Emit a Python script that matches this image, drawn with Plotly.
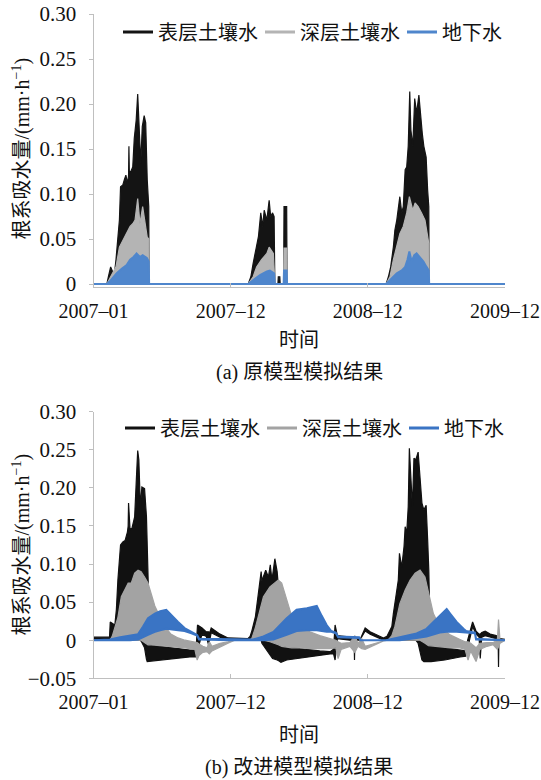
import pandas as pd
import plotly.graph_objects as go

START = pd.Timestamp("2007-01-01")
SPAN_DAYS = 1080
TICK_DAYS = [0, 360, 720, 1080]

NAMES = ["表层土壤水", "深层土壤水", "地下水"]
Y_TICKS_A = [0, 0.05, 0.10, 0.15, 0.20, 0.25, 0.30]
Y_TEXT_A = ["0", "0.05", "0.10", "0.15", "0.20", "0.25", "0.30"]
Y_TICKS_B = [-0.05, 0, 0.05, 0.10, 0.15, 0.20, 0.25, 0.30]
Y_TEXT_B = ["\u22120.05", "0", "0.05", "0.10", "0.15", "0.20", "0.25", "0.30"]

# ---- (a) original model: daily maxima of hourly root uptake (night values are 0)
a_surface_day = [0, 35, 39, 45, 50, 55, 59, 64, 68, 71, 77, 81, 85, 89, 92, 93, 94, 98, 103, 107,
                 112, 116, 120, 124, 128, 133, 137, 141, 145, 146,
                 406, 413, 419, 427, 433, 439, 444, 448, 455, 461, 465, 470, 474, 476, 484, 485,
                 489, 490, 499, 500, 507, 508,
                 768, 774, 780, 787, 791, 796, 801, 804, 809, 813, 818, 822, 826, 830, 833, 838,
                 843, 848, 854, 859, 863, 867, 873, 877, 880, 881, 1080]
a_surface_max = [0, 0, 0.008, 0.019, 0.014, 0.012, 0.027, 0.049, 0.071, 0.108, 0.110, 0.116, 0.121,
                 0.112, 0.120, 0.153, 0.125, 0.125, 0.130, 0.162, 0.182, 0.211, 0.179, 0.134, 0.175,
                 0.187, 0.179, 0.116, 0.086, 0,
                 0, 0.008, 0.023, 0.041, 0.053, 0.079, 0.064, 0.082, 0.071, 0.093, 0.075, 0.079,
                 0.075, 0, 0, 0.008, 0.008, 0, 0, 0.086, 0.086, 0,
                 0, 0.008, 0.019, 0.041, 0.060, 0.071, 0.086, 0.097, 0.079, 0.086, 0.127, 0.130,
                 0.153, 0.214, 0.171, 0.153, 0.206, 0.190, 0.210, 0.182, 0.167, 0.153, 0.141,
                 0.104, 0.086, 0, 0]

a_deep_day = [0, 35, 45, 59, 68, 78, 87, 96, 103, 109, 116, 122, 129, 135, 141, 145, 146,
              406, 419, 428, 441, 455, 461, 472, 476, 499, 500, 507, 508,
              768, 778, 787, 796, 804, 813, 822, 829, 838, 844, 852, 861, 870, 880, 881, 1080]
a_deep_max = [0, 0, 0.008, 0.019, 0.041, 0.049, 0.056, 0.064, 0.067, 0.071, 0.095, 0.067, 0.086,
              0.071, 0.052, 0.050, 0,
              0, 0.008, 0.019, 0.027, 0.034, 0.041, 0.034, 0, 0, 0.040, 0.040, 0,
              0, 0.008, 0.027, 0.041, 0.056, 0.064, 0.079, 0.097, 0.082, 0.090, 0.086, 0.079,
              0.071, 0.045, 0, 0]

a_ground_day = [0, 35, 45, 61, 74, 87, 96, 105, 113, 122, 129, 140, 145, 146,
                406, 419, 437, 455, 463, 474, 476, 499, 500, 507, 508,
                768, 783, 796, 809, 818, 824, 829, 835, 842, 848, 857, 866, 874, 880, 881, 1080]
a_ground_max = [0, 0, 0.004, 0.012, 0.017, 0.021, 0.027, 0.030, 0.034, 0.030, 0.032, 0.029, 0.025, 0,
                0, 0.004, 0.010, 0.014, 0.015, 0.012, 0, 0, 0.015, 0.015, 0,
                0, 0.006, 0.012, 0.015, 0.019, 0.027, 0.036, 0.025, 0.032, 0.034, 0.029, 0.025,
                0.019, 0.015, 0, 0]

# ---- (b) improved model: daily max / min of hourly root uptake
b_surface_day = [0, 42, 44, 56, 58, 60, 64, 69, 71, 77, 83, 89, 91, 92, 94, 96, 101, 108, 112, 116,
                 119, 123, 127, 134, 139, 141, 143, 145, 148, 175, 214, 253, 269, 273, 285, 296,
                 302, 305, 309, 314, 332, 353, 405, 411, 416, 425, 434, 438, 440, 442, 447, 452,
                 459, 464, 467, 470, 476, 482, 486, 490, 492, 507, 542, 594, 621, 630, 634, 640,
                 673, 684, 685, 686, 692, 699, 713, 726, 761, 770, 783, 787, 791, 796, 800, 803,
                 809, 815, 818, 822, 826, 829, 833, 837, 841, 846, 852, 857, 862, 867, 873, 877,
                 880, 883, 886, 922, 962, 977, 982, 995, 1004, 1012, 1015, 1019, 1028, 1041, 1057,
                 1062, 1063, 1064, 1067, 1080]
b_surface_max = [0.004, 0.004, 0.024, 0.020, 0.030, 0.040, 0.079, 0.105, 0.125, 0.129, 0.131, 0.142,
                 0.150, 0.180, 0.148, 0.145, 0.147, 0.162, 0.206, 0.249, 0.237, 0.175, 0.201, 0.199,
                 0.162, 0.123, 0.092, 0.020, -0.006, -0.008, -0.011, -0.013, -0.013, 0.020, 0.016,
                 0.011, 0.011, 0.010, 0.016, 0.014, 0.008, 0.003, 0.002, 0.005, 0.013, 0.031, 0.066,
                 0.075, 0.090, 0.078, 0.084, 0.092, 0.083, 0.099, 0.085, 0.085, 0.107, 0.090, 0.066,
                 0.010, -0.008, -0.008, -0.011, -0.014, -0.015, -0.012, 0.020, 0.006, 0.004, 0.003,
                 0.003, 0.003, 0.003, 0.000, 0.016, 0.011, 0.003, 0.005, 0.018, 0.035, 0.048, 0.066,
                 0.079, 0.114, 0.096, 0.123, 0.149, 0.140, 0.175, 0.252, 0.219, 0.175, 0.239, 0.237,
                 0.247, 0.219, 0.180, 0.171, 0.177, 0.132, 0.092, 0.020, -0.006, -0.010, -0.013,
                 -0.014, 0.000, 0.024, 0.012, 0.008, 0.008, 0.010, 0.012, 0.008, 0.006, 0.004,
                 0.004, 0.003, 0.002, 0.001]
b_surface_min = [0, 0, 0, 0, 0, 0, 0, 0, 0, 0, 0, 0, 0, 0, 0, 0, 0, 0, 0, 0,
                 0, 0, -0.003, -0.010, -0.025, -0.028, -0.028, -0.028, -0.028, -0.026, -0.024,
                 -0.022, -0.022, -0.013, 0.008, 0.005, -0.006, 0.000, 0.010, 0.008, 0.004, 0.000,
                 0.000, 0, 0, 0, 0, 0, 0, -0.004, -0.008, -0.012, -0.016, -0.020, -0.022, -0.024,
                 -0.025, -0.026, -0.027, -0.028, -0.029, -0.026, -0.024, -0.020, -0.018, -0.018,
                 -0.026, 0.002, 0.000, 0.0, -0.026, 0.0, 0.000, 0.000, 0.012, 0.008, 0.000, 0, 0,
                 0, 0, 0, 0, 0, 0, 0, 0, 0, 0, 0, 0, 0, 0, 0, -0.004, -0.015, -0.026, -0.028,
                 -0.028, -0.028, -0.028, -0.028, -0.028, -0.026, -0.022, -0.021, -0.008, 0.018,
                 0.008, 0.004, -0.024, 0.004, 0.006, 0.004, 0.002, 0.0, -0.035, 0.0, 0.0, 0.0]

b_deep_day = [0, 43, 49, 59, 64, 73, 82, 91, 99, 108, 117, 125, 134, 143, 152, 161, 175, 188, 203,
              222, 240, 266, 272, 277, 287, 298, 304, 311, 332, 353, 371, 411, 416, 424, 432, 446,
              463, 485, 494, 507, 520, 542, 568, 594, 621, 636, 642, 650, 673, 686, 694, 704, 713,
              739, 761, 773, 783, 791, 804, 818, 831, 844, 857, 870, 879, 892, 909, 936, 962, 975,
              983, 990, 1004, 1014, 1033, 1049, 1060, 1063, 1067, 1080]
b_deep_max = [0, 0, 0.005, 0.020, 0.030, 0.057, 0.066, 0.075, 0.075, 0.088, 0.092, 0.090, 0.083,
              0.075, 0.060, 0.045, 0.030, 0.018, 0.008, 0.003, 0.000, -0.003, -0.003, -0.005,
              -0.008, -0.010, -0.002, -0.008, -0.004, -0.002, 0, 0, 0.003, 0.015, 0.030, 0.057,
              0.070, 0.079, 0.075, 0.052, 0.032, 0.018, 0.011, 0.006, 0.002, 0.000, -0.002, -0.004,
              -0.003, 0.006, -0.004, 0.002, -0.008, -0.004, -0.001, 0, 0.006, 0.018, 0.048, 0.066,
              0.079, 0.088, 0.092, 0.083, 0.062, 0.035, 0.018, 0.007, 0.001, -0.002, -0.002,
              -0.004, -0.010, -0.004, -0.003, -0.003, 0.000, 0.027, 0.000, 0]
b_deep_min = [0, 0, 0, 0, 0, 0, 0, 0, 0, 0, 0, 0, -0.003, -0.006, -0.006, -0.006, -0.007, -0.008,
              -0.008, -0.009, -0.010, -0.012, -0.026, -0.020, -0.016, -0.015, -0.018, -0.014,
              -0.009, -0.004, 0, 0, 0, 0, 0, 0, -0.002, -0.006, -0.008, -0.009, -0.010, -0.010,
              -0.011, -0.011, -0.011, -0.010, -0.024, -0.012, -0.008, -0.016, -0.008, -0.011,
              -0.012, -0.006, -0.001, 0, 0, 0, 0, 0, 0, 0, 0, -0.004, -0.007, -0.008, -0.009,
              -0.010, -0.010, -0.012, -0.026, -0.014, -0.028, -0.012, -0.008, -0.006, -0.012,
              -0.010, -0.004, 0]

b_ground_day = [0, 43, 70, 96, 117, 130, 143, 161, 175, 191, 204, 222, 239, 257, 272, 277, 358,
                419, 446, 472, 507, 533, 560, 586, 599, 612, 624, 636, 642, 697, 701, 768, 804,
                848, 874, 892, 909, 927, 936, 953, 971, 978, 1001, 1004, 1080]
b_ground_max = [0, 0.001, 0.004, 0.006, 0.008, 0.018, 0.029, 0.035, 0.038, 0.040, 0.033, 0.024,
                0.016, 0.011, 0.007, 0.002, 0.001, 0.001, 0.005, 0.011, 0.029, 0.040, 0.042, 0.045,
                0.032, 0.020, 0.012, 0.010, 0.005, 0.004, 0.000, 0.000, 0.004, 0.009, 0.015, 0.024,
                0.033, 0.041, 0.035, 0.024, 0.015, 0.012, 0.010, 0.002, 0.000]
b_ground_min = [0, 0, 0, 0, 0.001, 0.004, 0.007, 0.011, 0.013, 0.015, 0.014, 0.013, 0.012, 0.009,
                0.006, 0.001, 0, 0, 0, 0.001, 0.007, 0.012, 0.013, 0.013, 0.012, 0.011, 0.011, 0.009,
                0.004, 0.003, 0.000, 0, 0, 0.003, 0.005, 0.008, 0.010, 0.011, 0.011, 0.011, 0.011,
                0.010, 0.009, 0.001, 0.000]

COLORS_A = ["#141414", "#b4b4b4", "#4f86cc"]
COLORS_B = ["#111111", "#a3a3a3", "#3a74c4"]
AXIS_GREY = "#bfbfbf"
FONT = "Liberation Serif, Noto Sans CJK SC, serif"


def to_dates(days):
    return list(START + pd.to_timedelta(days, unit="D"))


def band(days, hi, lo, color, xa, ya, width=1.2):
    assert len(days) == len(hi) == len(lo)
    d = to_dates(days)
    return go.Scatter(x=d + d[::-1], y=list(hi) + list(lo)[::-1], mode="lines",
                      fill="toself", fillcolor=color, line=dict(color=color, width=width),
                      xaxis=xa, yaxis=ya, showlegend=False, hoverinfo="skip")


fig = go.Figure()

# (a) each series oscillates between 0 at night and its daily peak
for days, peak, col in zip([a_surface_day, a_deep_day, a_ground_day],
                           [a_surface_max, a_deep_max, a_ground_max], COLORS_A):
    fig.add_trace(band(days, peak, [0] * len(peak), col, "x", "y",
                       width=2 if col == COLORS_A[2] else 1.2))

# (b) daily envelopes of the improved model
for days, hi, lo, col in zip([b_surface_day, b_deep_day, b_ground_day],
                             [b_surface_max, b_deep_max, b_ground_max],
                             [b_surface_min, b_deep_min, b_ground_min], COLORS_B):
    fig.add_trace(band(days, hi, lo, col, "x2", "y2",
                       width=2 if col == COLORS_B[2] else 1.2))

# legend entries drawn as plain line samples
for name, col in zip(NAMES, COLORS_A):
    fig.add_trace(go.Scatter(x=[None], y=[None], mode="lines", name=name,
                             line=dict(color=col, width=3), xaxis="x", yaxis="y", legend="legend"))
for name, col in zip(NAMES, COLORS_B):
    fig.add_trace(go.Scatter(x=[None], y=[None], mode="lines", name=name,
                             line=dict(color=col, width=3), xaxis="x2", yaxis="y2", legend="legend2"))

W, H = 541, 780
X0, X1 = 93.5, 505.0
xdom = [X0 / W, X1 / W]
tickvals = to_dates(TICK_DAYS)
xrange_ = [START, START + pd.Timedelta(days=SPAN_DAYS)]

common_x = dict(type="date", range=xrange_, tickvals=tickvals, tickformat="%Y\u2013%m",
                ticks="inside", ticklen=4, tickcolor=AXIS_GREY, showline=True,
                linecolor=AXIS_GREY, linewidth=1, showgrid=False, zeroline=False,
                tickfont=dict(family=FONT, size=20, color="#111"), ticklabelstandoff=6,
                ticklabeloverflow="allow")
common_y = dict(ticks="outside", ticklen=4, tickcolor=AXIS_GREY, showline=True,
                linecolor=AXIS_GREY, linewidth=1, showgrid=False, zeroline=False,
                tickfont=dict(family=FONT, size=21, color="#111"), ticklabelstandoff=8,
                ticklabeloverflow="allow")

fig.update_layout(
    width=W, height=H, margin=dict(l=0, r=0, t=0, b=0, autoexpand=False),
    paper_bgcolor="white", plot_bgcolor="white",
    font=dict(family=FONT, size=20, color="#111"),
    xaxis=dict(domain=xdom, anchor="y", **common_x),
    yaxis=dict(domain=[(H - 286.7) / H, (H - 14) / H], anchor="x", range=[-0.003, 0.30],
               tickvals=Y_TICKS_A, ticktext=Y_TEXT_A, **common_y),
    xaxis2=dict(domain=xdom, anchor="y2", **common_x),
    yaxis2=dict(domain=[(H - 678.3) / H, (H - 411.7) / H], anchor="x2", range=[-0.05, 0.30],
                tickvals=Y_TICKS_B, ticktext=Y_TEXT_B, **common_y),
    legend=dict(orientation="h", x=118 / W, y=(H - 32) / H, xanchor="left", yanchor="middle",
                font=dict(family=FONT, size=20), itemwidth=30, bgcolor="rgba(0,0,0,0)",
                entrywidth=97, entrywidthmode="pixels"),
    legend2=dict(orientation="h", x=120 / W, y=(H - 428) / H, xanchor="left", yanchor="middle",
                 font=dict(family=FONT, size=20), itemwidth=30, bgcolor="rgba(0,0,0,0)",
                 entrywidth=97, entrywidthmode="pixels"),
    showlegend=True,
)

ytitle = "根系吸水量/(mm·h<sup>\u22121</sup>)"
xc = (X0 + X1) / 2 / W
notes = [
    dict(text=ytitle, x=20.5 / W, y=(H - 149) / H, textangle=-90),
    dict(text=ytitle, x=20.5 / W, y=(H - 545) / H, textangle=-90),
    dict(text="时间", x=xc, y=(H - 340) / H),
    dict(text="时间", x=xc, y=(H - 735) / H),
    dict(text="(a) 原模型模拟结果", x=xc, y=(H - 372) / H),
    dict(text="(b) 改进模型模拟结果", x=xc, y=(H - 767) / H),
]
for n in notes:
    fig.add_annotation(xref="paper", yref="paper", showarrow=False, xanchor="center",
                       yanchor="middle", font=dict(family=FONT, size=20), **n)

fig.write_html("out.html")
